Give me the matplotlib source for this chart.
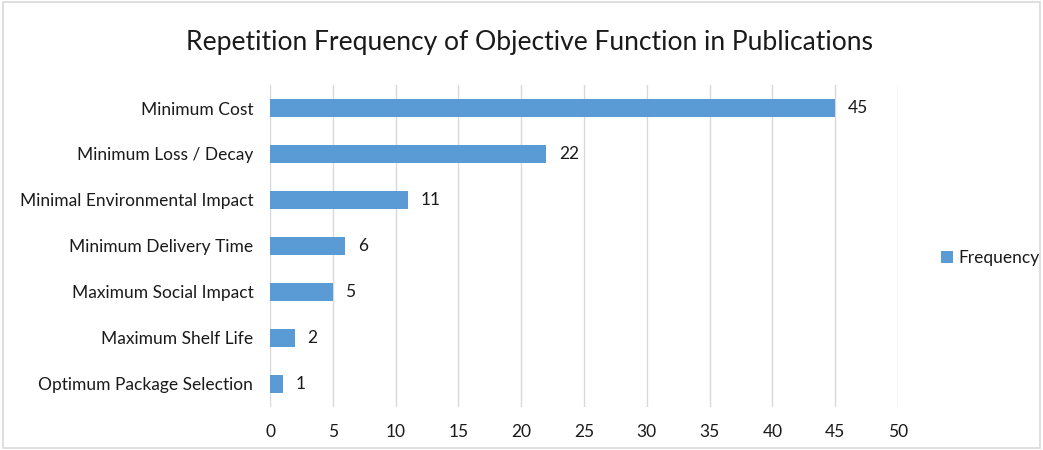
import numpy as np
import matplotlib
matplotlib.use("Agg")
import matplotlib.pyplot as plt
from matplotlib.patches import Rectangle

#Data:-------------------------------------------------------------------------

categories = ["Minimum Cost", "Minimum Loss / Decay", "Minimal Environmental Impact",
              "Minimum Delivery Time", "Maximum Social Impact", "Maximum Shelf Life",
              "Optimum Package Selection"]
frequency = [45, 22, 11, 6, 5, 2, 1]
x_ticks = [0, 5, 10, 15, 20, 25, 30, 35, 40, 45, 50]

bar_color = "#5B9BD5"
grid_color = "#D9D9D9"
text_color = "#1A1A1A"

plt.rcParams['font.family'] = ['Lato', 'DejaVu Sans']

#Figure:-----------------------------------------------------------------------

fig = plt.figure(figsize=(10.43, 4.5), dpi=100)
fig.patches.append(Rectangle((0.003, 0.004), 0.994, 0.992, transform=fig.transFigure,
                             fill=False, edgecolor=grid_color, linewidth=1.2))

ax = fig.add_axes([0.2589, 0.0956, 0.6021, 0.7155])

y_pos = np.arange(len(categories))
bars = ax.barh(y_pos, frequency, height=0.4, color=bar_color, label="Frequency", zorder=3)

ax.set_ylim(len(categories) - 0.5, -0.5)
ax.set_xlim(0, 50)
ax.set_xticks(x_ticks)
ax.set_yticks(y_pos)
ax.set_yticklabels(categories, fontsize=12.5, color=text_color)
ax.tick_params(axis="x", labelsize=12.5, colors=text_color, length=0, pad=12)
ax.tick_params(axis="y", length=0, pad=12)

ax.grid(axis="x", color=grid_color, linewidth=1, zorder=0)
for side in ["top", "right", "bottom", "left"]:
    ax.spines[side].set_visible(False)

for bar, val in zip(bars, frequency):
    ax.text(bar.get_width() + 1, bar.get_y() + bar.get_height() / 2, str(val),
            va="center", ha="left", fontsize=12.5, color=text_color)

fig.text(0.508, 0.905, "Repetition Frequency of Objective Function in Publications",
         ha="center", va="center", fontsize=19.1, color=text_color)

fig.legend(loc="center left", bbox_to_anchor=(0.894, 0.426), frameon=False,
           fontsize=12.5, handlelength=0.7, handleheight=0.7, handletextpad=0.3,
           borderpad=0, labelcolor=text_color)

fig.savefig("out.png", dpi=100)
